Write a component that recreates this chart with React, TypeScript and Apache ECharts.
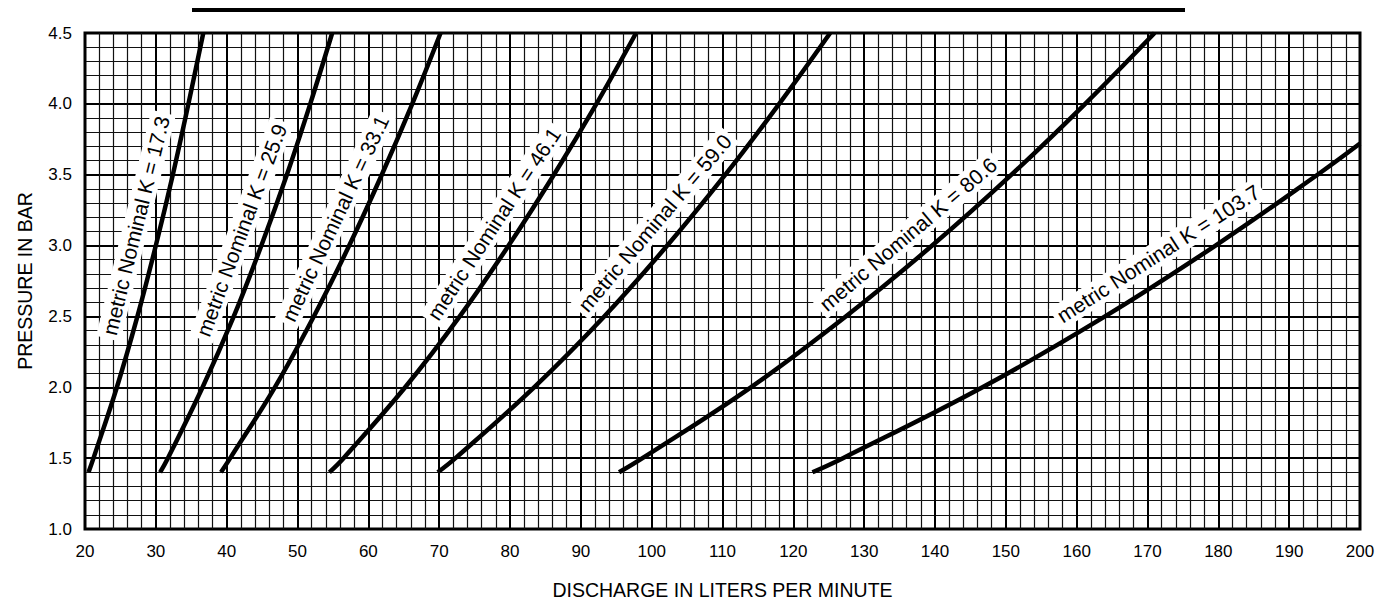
import React, { useEffect, useRef } from "react";
import * as echarts from "echarts";

const P_STD = [1.4, 1.5, 2.0, 2.5, 3.0, 3.5, 4.0, 4.5];
const P_K103_7 = [1.4, 1.5, 2.0, 2.5, 3.0, 3.5, 3.72];

// Discharge (L/min) at those pressures
const Q_K17_3 = [20.5, 21.2, 24.5, 27.4, 30.0, 32.4, 34.6, 36.7];
const Q_K25_9 = [30.6, 31.7, 36.6, 41.0, 44.9, 48.5, 51.8, 54.9];
const Q_K33_1 = [39.2, 40.5, 46.8, 52.3, 57.3, 61.9, 66.2, 70.2];
const Q_K46_1 = [54.5, 56.5, 65.2, 72.9, 79.8, 86.2, 92.2, 97.8];
const Q_K59_0 = [69.8, 72.3, 83.4, 93.3, 102.2, 110.4, 118.0, 125.2];
const Q_K80_6 = [95.4, 98.7, 114.0, 127.4, 139.6, 150.8, 161.2, 171.0];
const Q_K103_7 = [122.7, 127.0, 146.7, 164.0, 179.6, 194.0, 200.0];

const CURVE_LABELS = [
  "metric Nominal K = 17.3",
  "metric Nominal K = 25.9",
  "metric Nominal K = 33.1",
  "metric Nominal K = 46.1",
  "metric Nominal K = 59.0",
  "metric Nominal K = 80.6",
  "metric Nominal K = 103.7",
];

const X_TITLE = "DISCHARGE IN LITERS PER MINUTE";
const Y_TITLE = "PRESSURE IN BAR";

// label placement (pressure on the curve where the label sits beside it)
const LABEL_AT_P = [3.1, 3.05, 3.12, 3.06, 3.05, 2.95, 2.8];
const LABEL_OFFSET = 24;

const FONT = '"Liberation Sans", Arial, Helvetica, sans-serif';

const curves = [
  { p: P_STD, q: Q_K17_3 },
  { p: P_STD, q: Q_K25_9 },
  { p: P_STD, q: Q_K33_1 },
  { p: P_STD, q: Q_K46_1 },
  { p: P_STD, q: Q_K59_0 },
  { p: P_STD, q: Q_K80_6 },
  { p: P_K103_7, q: Q_K103_7 },
];

function qAt(c: { p: number[]; q: number[] }, p: number) {
  for (let i = 0; i < c.p.length - 1; i++) {
    if (p >= c.p[i] && p <= c.p[i + 1]) {
      const t = (p - c.p[i]) / (c.p[i + 1] - c.p[i]);
      return c.q[i] + t * (c.q[i + 1] - c.q[i]);
    }
  }
  return c.q[c.q.length - 1];
}

export default function App() {
  const ref = useRef<HTMLDivElement>(null);
  useEffect(() => {
    if (!ref.current) return;
    const chart = echarts.init(ref.current, undefined, { renderer: "svg" });
    chart.setOption({
      animation: false,
      backgroundColor: "#fff",
      grid: {
        left: 85,
        right: 33,
        top: 33,
        bottom: 79,
        show: true,
        borderColor: "#000",
        borderWidth: 3,
        backgroundColor: "#fff",
      },
      xAxis: {
        type: "value",
        min: 20,
        max: 200,
        interval: 10,
        name: X_TITLE,
        nameLocation: "middle",
        nameGap: 51,
        nameTextStyle: { fontFamily: FONT, fontSize: 19.5, color: "#000" },
        axisLine: { show: false },
        axisTick: { show: false },
        axisLabel: { margin: 14, fontFamily: FONT, fontSize: 17, color: "#000" },
        splitLine: { show: true, lineStyle: { color: "#000", width: 2 } },
        minorTick: { show: false, splitNumber: 5 },
        minorSplitLine: { show: true, lineStyle: { color: "#111", width: 1.2 } },
      },
      yAxis: {
        type: "value",
        min: 1,
        max: 4.5,
        interval: 0.5,
        name: Y_TITLE,
        nameLocation: "middle",
        nameGap: 50,
        nameTextStyle: { fontFamily: FONT, fontSize: 19.5, color: "#000" },
        axisLine: { show: false },
        axisTick: { show: false },
        axisLabel: {
          margin: 13,
          fontFamily: FONT,
          fontSize: 17,
          color: "#000",
          formatter: (v: number) => v.toFixed(1),
        },
        splitLine: { show: true, lineStyle: { color: "#000", width: 2 } },
        minorTick: { show: false, splitNumber: 5 },
        minorSplitLine: { show: true, lineStyle: { color: "#111", width: 1.2 } },
      },
      series: curves.map((c) => ({
        type: "line",
        data: c.q.map((q, i) => [q, c.p[i]]),
        smooth: 0.4,
        symbol: "none",
        clip: true,
        z: 5,
        lineStyle: { color: "#000", width: 4.5, cap: "butt" },
      })),
    });

    const labels = curves.map((c, i) => {
      const p0 = LABEL_AT_P[i];
      const a = chart.convertToPixel({ gridIndex: 0 }, [qAt(c, p0 - 0.2), p0 - 0.2]) as number[];
      const b = chart.convertToPixel({ gridIndex: 0 }, [qAt(c, p0 + 0.2), p0 + 0.2]) as number[];
      const m = chart.convertToPixel({ gridIndex: 0 }, [qAt(c, p0), p0]) as number[];
      const dx = b[0] - a[0];
      const dy = b[1] - a[1];
      const len = Math.hypot(dx, dy);
      const ux = dx / len;
      const uy = dy / len;
      return {
        type: "text",
        x: m[0] + uy * LABEL_OFFSET,
        y: m[1] - ux * LABEL_OFFSET,
        rotation: Math.atan2(-dy, dx),
        z: 10,
        style: {
          text: CURVE_LABELS[i],
          x: 0,
          y: 0,
          align: "center",
          verticalAlign: "middle",
          font: `21px ${FONT}`,
          fill: "#000",
          backgroundColor: "#fff",
          padding: [2, 4],
        },
      };
    });

    chart.setOption({
      graphic: [
        {
          type: "line",
          shape: { x1: 192, y1: 10, x2: 1185, y2: 10 },
          style: { stroke: "#000", lineWidth: 4 },
        },
        ...labels,
      ],
    });

    return () => chart.dispose();
  }, []);
  return (
    <div
      ref={ref}
      style={{ position: "fixed", left: 0, top: 0, width: 1393, height: 608 }}
    />
  );
}
